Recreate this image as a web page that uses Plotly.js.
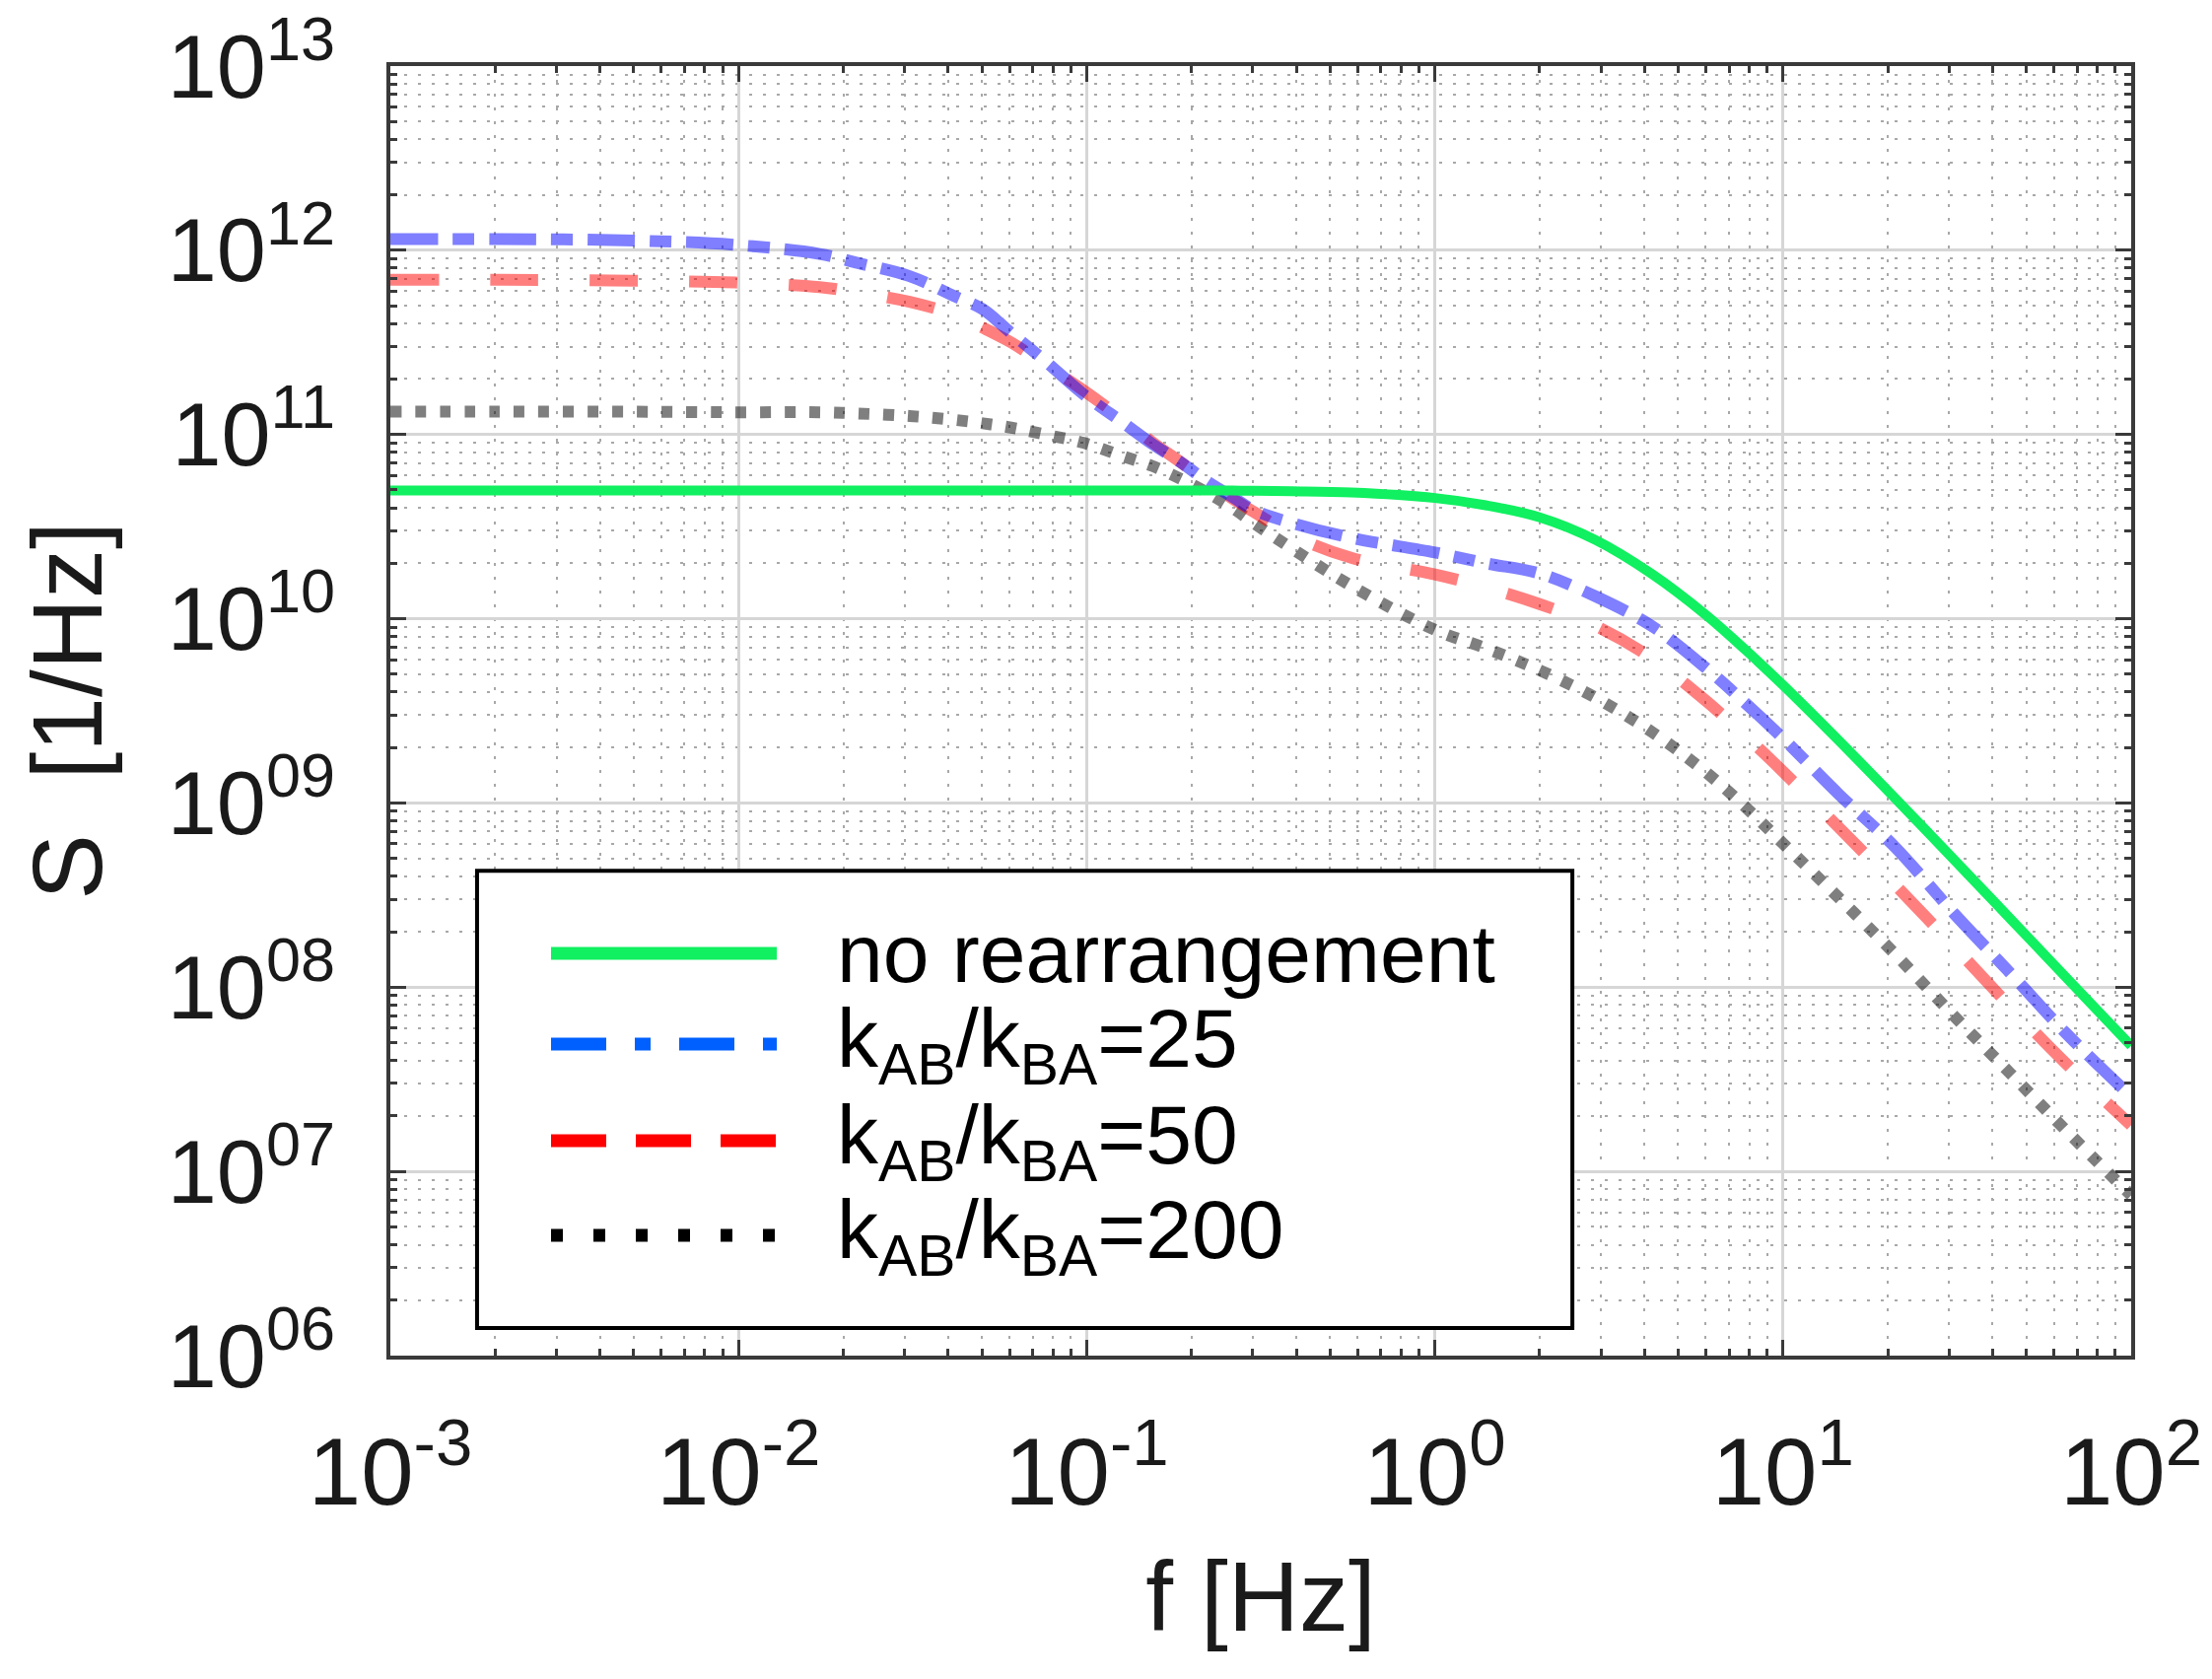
<!DOCTYPE html>
<html>
<head>
<meta charset="utf-8">
<script src="https://cdn.plot.ly/plotly-3.0.1.min.js"></script>
<style>
  html, body { margin: 0; padding: 0; background: #fff; }
  #chart { width: 2244px; height: 1703px; }
</style>
</head>
<body>
<div id="chart"></div>
<script>
// frequency grid (Hz) the curves were read at
const FREQ = [0.001, 0.002, 0.005, 0.0098, 0.0171, 0.0221, 0.031, 0.0418, 0.0503, 0.0607,
  0.0759, 0.0977, 0.128, 0.154, 0.186, 0.224, 0.263, 0.302, 0.389, 0.575,
  1, 1.4, 2, 2.9, 4.2, 6, 7.8, 10, 14.5, 21, 31, 45, 65, 100];

// S [1/Hz]
const S_NONE = [4.97e10, 4.97e10, 4.97e10, 4.97e10, 4.97e10, 4.97e10, 4.97e10, 4.97e10, 4.97e10, 4.97e10,
  4.97e10, 4.97e10, 4.97e10, 4.97e10, 4.97e10, 4.96e10, 4.96e10, 4.95e10, 4.92e10, 4.84e10,
  4.52e10, 4.13e10, 3.55e10, 2.67e10, 1.75e10, 1.05e10, 6.78e9, 4.36e9, 2.17e9, 1.06e9, 4.92e8, 2.35e8, 1.13e8, 4.8e7];
const S_K25 = [1.15e12, 1.15e12, 1.13e12, 1.07e12, 9.55e11, 8.51e11, 7.24e11, 5.62e11, 4.79e11, 3.55e11,
  2.51e11, 1.66e11, 1.15e11, 8.91e10, 7.08e10, 5.5e10, 4.57e10, 3.89e10, 3.31e10, 2.75e10,
  2.29e10, 2.0e10, 1.76e10, 1.32e10, 9.12e9, 5.41e9, 3.48e9, 2.24e9, 1.11e9, 5.75e8, 2.51e8, 1.19e8, 5.62e7, 2.55e7];
const S_K50 = [6.92e11, 6.92e11, 6.84e11, 6.68e11, 6.31e11, 5.89e11, 5.25e11, 4.47e11, 3.8e11, 3.16e11,
  2.4e11, 1.74e11, 1.2e11, 9.12e10, 7.08e10, 5.5e10, 4.47e10, 3.8e10, 2.85e10, 2.14e10,
  1.74e10, 1.48e10, 1.2e10, 9.12e9, 6.1e9, 3.59e9, 2.31e9, 1.48e9, 7.33e8, 3.59e8, 1.66e8, 7.83e7, 3.85e7, 1.78e7];
const S_K200 = [1.33e11, 1.33e11, 1.33e11, 1.32e11, 1.32e11, 1.3e11, 1.26e11, 1.2e11, 1.15e11, 1.09e11,
  1.0e11, 9.02e10, 7.59e10, 6.76e10, 5.75e10, 4.79e10, 3.98e10, 3.31e10, 2.4e10, 1.51e10,
  8.71e9, 6.92e9, 5.25e9, 3.72e9, 2.43e9, 1.47e9, 9.5e8, 6.03e8, 3.04e8, 1.51e8, 6.97e7, 3.4e7, 1.67e7, 7.41e6];

const SERIES_NAMES = ['no rearrangement',
  'k<sub>AB</sub>/k<sub>BA</sub>=25',
  'k<sub>AB</sub>/k<sub>BA</sub>=50',
  'k<sub>AB</sub>/k<sub>BA</sub>=200'];

const X_TICKS = [0.001, 0.01, 0.1, 1, 10, 100];
const X_LABELS = ['10<sup>-3</sup>', '10<sup>-2</sup>', '10<sup>-1</sup>', '10<sup>0</sup>', '10<sup>1</sup>', '10<sup>2</sup>'];
const Y_TICKS = [1e6, 1e7, 1e8, 1e9, 1e10, 1e11, 1e12, 1e13];
const Y_LABELS = ['10<sup>06</sup>', '10<sup>07</sup>', '10<sup>08</sup>', '10<sup>09</sup>',
  '10<sup>10</sup>', '10<sup>11</sup>', '10<sup>12</sup>', '10<sup>13</sup>'];

(function () {
  const FONT = 'Liberation Sans, Arial, Helvetica, sans-serif';

  const mk = (y, color, dash) => ({
    x: FREQ, y: y, type: 'scatter', mode: 'lines', showlegend: false, hoverinfo: 'skip',
    line: { color: color, width: 12, dash: dash, shape: 'spline', smoothing: 1 },
  });

  const traces = [
    mk(S_K200, 'rgba(0,0,0,0.5)', '11px,14px'),
    mk(S_K50, 'rgba(255,0,0,0.5)', '49px,52px'),
    mk(S_K25, 'rgba(0,0,255,0.5)', '48px,15px,22px,15px'),
    mk(S_NONE, '#10f060', 'solid'),
  ];
  traces[3].line.width = 10;

  const axis = {
    type: 'log', showline: true, linecolor: '#3a3a3a', linewidth: 4, mirror: 'allticks',
    ticks: 'inside', ticklen: 16, tickwidth: 3, tickcolor: '#3a3a3a',
    tickmode: 'array', showgrid: true, gridcolor: '#d6d6d6', gridwidth: 3,
    zeroline: false, automargin: false,
    minor: { ticks: 'inside', ticklen: 7, tickwidth: 3, tickcolor: '#3a3a3a', dtick: 'D1',
      showgrid: true, gridcolor: '#a8a8a8', gridwidth: 2, griddash: '3px,11px' },
  };

  // legend box drawn by hand: sample lines are much longer than plotly's own
  const LX0 = 0.0498, LX1 = 0.679, LY0 = 0.0214, LY1 = 0.376;
  const SX0 = 0.0923, SX1 = 0.222, TX = 0.2554;
  const ROWS = [0.312, 0.2416, 0.1667, 0.0933];
  const LEG = [
    { color: '#10f060', dash: 'solid', width: 13 },
    { color: '#0060ff', dash: '56px,29px,16px,29px', width: 13 },
    { color: '#ff0000', dash: '56px,30px', width: 13 },
    { color: '#000000', dash: '12px,31px', width: 13 },
  ];
  const shapes = [{ type: 'rect', xref: 'paper', yref: 'paper', x0: LX0, x1: LX1, y0: LY0, y1: LY1,
    fillcolor: '#ffffff', line: { color: '#000', width: 4 } }];
  LEG.forEach((s, i) => shapes.push({ type: 'line', xref: 'paper', yref: 'paper',
    x0: SX0, x1: SX1, y0: ROWS[i], y1: ROWS[i], line: { color: s.color, width: s.width, dash: s.dash } }));
  const annotations = SERIES_NAMES.map((t, i) => ({
    xref: 'paper', yref: 'paper', x: TX, y: ROWS[i], xanchor: 'left', yanchor: 'middle',
    text: t, showarrow: false, font: { family: FONT, size: 84, color: '#000' },
  }));

  const layout = {
    width: 2244, height: 1703,
    margin: { l: 396, r: 82, t: 67, b: 328, autoexpand: false },
    paper_bgcolor: '#fff', plot_bgcolor: '#fff',
    font: { family: FONT, color: '#1a1a1a' },
    xaxis: { ...axis, range: [-3, 2], tickvals: X_TICKS, ticktext: X_LABELS,
      tickfont: { family: FONT, size: 96, color: '#1a1a1a' }, ticklabelstandoff: 32,
      title: { text: 'f [Hz]', font: { family: FONT, size: 100, color: '#1a1a1a' }, standoff: 40 } },
    yaxis: { ...axis, range: [6, 13], tickvals: Y_TICKS, ticktext: Y_LABELS,
      tickfont: { family: FONT, size: 90, color: '#1a1a1a' }, ticklabelstandoff: 34,
      title: { text: 'S  [1/Hz]', font: { family: FONT, size: 100, color: '#1a1a1a' }, standoff: 34 } },
    shapes: shapes,
    annotations: annotations,
  };

  Plotly.newPlot('chart', traces, layout, { staticPlot: true, displayModeBar: false });
})();
</script>
</body>
</html>
